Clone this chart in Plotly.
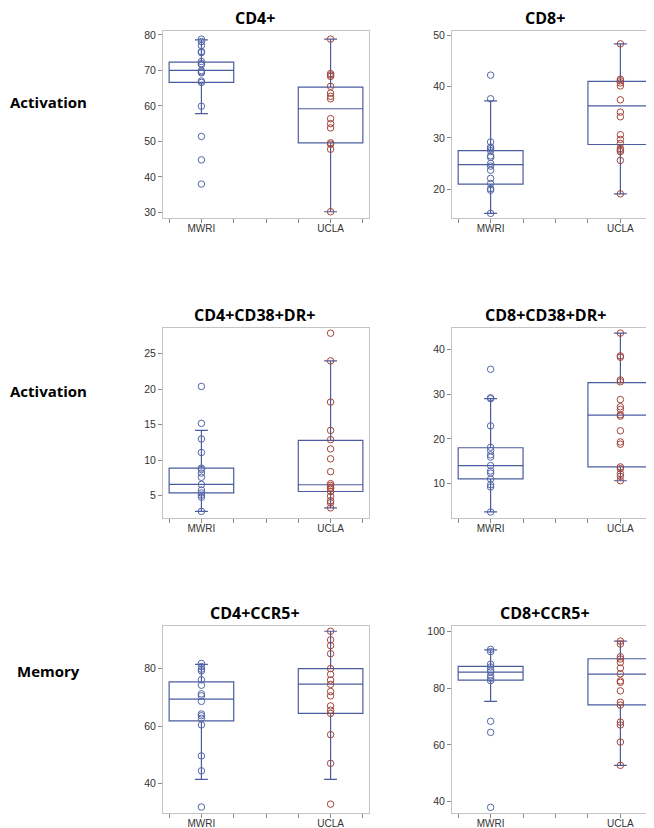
import plotly.graph_objects as go

W, H = 654, 828

# ---------------- data ----------------
groups = ["MWRI", "UCLA"]
group_pos = [1, 5]
x_tickvals = [0, 1, 2, 3, 4, 5, 6]
x_ticktext = ["", "MWRI", "", "", "", "UCLA", ""]

panel_titles = ["CD4+", "CD8+", "CD4+CD38+DR+", "CD8+CD38+DR+", "CD4+CCR5+", "CD8+CCR5+"]
row_labels = ["Activation", "Activation", "Memory"]

# raw observations
cd4_mwri = [78.8, 78.1, 77.0, 75.3, 75.0, 72.5, 71.9, 71.6, 69.9, 69.6, 69.3, 67.0, 66.6, 59.9, 51.4, 44.8, 38.0]
cd4_ucla = [78.8, 69.1, 68.7, 68.3, 65.5, 63.6, 62.7, 62.0, 56.4, 55.0, 53.8, 49.6, 49.2, 47.8, 30.2]
cd8_mwri = [42.2, 37.6, 29.2, 28.2, 27.9, 27.5, 26.5, 26.2, 25.0, 24.5, 23.7, 22.1, 21.1, 20.1, 19.8, 15.3]
cd8_ucla = [48.3, 41.4, 41.1, 40.7, 40.1, 37.4, 35.0, 34.1, 30.6, 29.7, 28.9, 27.9, 27.6, 27.3, 25.6, 19.1]
cd4dr_mwri = [20.4, 15.2, 13.0, 11.1, 8.9, 8.7, 8.2, 7.6, 6.6, 5.8, 5.4, 5.1, 4.8, 2.8]
cd4dr_ucla = [27.9, 24.0, 18.2, 14.2, 12.9, 11.6, 10.2, 8.4, 6.7, 6.45, 6.2, 6.0, 5.6, 4.95, 4.3, 4.0, 3.3]
cd8dr_mwri = [35.6, 29.2, 29.0, 22.9, 18.1, 17.4, 16.4, 15.9, 14.0, 12.8, 12.3, 11.0, 9.7, 9.2, 3.6]
cd8dr_ucla = [43.7, 38.6, 38.3, 33.2, 32.8, 28.8, 27.2, 26.6, 25.4, 25.1, 21.8, 19.3, 18.8, 13.7, 13.3, 12.2, 11.6, 10.6]
cd4ccr5_mwri = [81.8, 80.7, 79.8, 79.2, 76.1, 74.2, 71.2, 70.5, 68.6, 64.2, 63.6, 62.7, 60.4, 49.6, 44.4, 31.8]
cd4ccr5_ucla = [93.0, 90.0, 88.0, 85.2, 80.0, 78.0, 76.0, 74.5, 72.0, 70.5, 67.0, 65.5, 64.4, 57.0, 47.0, 32.8]
cd8ccr5_mwri = [93.6, 92.8, 88.4, 87.4, 86.4, 85.7, 84.3, 83.4, 82.6, 68.3, 64.4, 38.0]
cd8ccr5_ucla = [96.5, 95.5, 91.0, 90.2, 89.0, 87.0, 85.0, 82.5, 82.0, 79.0, 75.0, 74.0, 68.0, 67.0, 61.0, 52.8]

# box statistics as drawn: [lower whisker, Q1, median, Q3, upper whisker]
cd4_mwri_box = [57.8, 66.6, 70.0, 72.3, 78.6]
cd4_ucla_box = [30.2, 49.6, 59.2, 65.3, 78.8]
cd8_mwri_box = [15.3, 21.0, 24.8, 27.5, 37.2]
cd8_ucla_box = [19.1, 28.7, 36.2, 41.0, 48.3]
cd4dr_mwri_box = [2.8, 5.4, 6.6, 8.9, 14.2]
cd4dr_ucla_box = [3.3, 5.6, 6.55, 12.8, 24.0]
cd8dr_mwri_box = [3.6, 11.0, 14.0, 18.0, 29.0]
cd8dr_ucla_box = [10.6, 13.7, 25.3, 32.6, 43.7]
cd4ccr5_mwri_box = [41.4, 61.8, 69.4, 75.4, 81.5]
cd4ccr5_ucla_box = [41.4, 64.4, 74.6, 80.0, 93.0]
cd8ccr5_mwri_box = [75.3, 82.8, 85.6, 87.6, 93.4]
cd8ccr5_ucla_box = [52.8, 74.1, 84.9, 90.3, 96.5]

# y axis ranges and ticks
y_ranges = [[28.3, 81.1], [14.3, 50.8], [1.9, 28.6], [2.3, 44.8], [29.7, 95.0], [36.0, 102.0]]
y_ticks = [[30, 40, 50, 60, 70, 80], [20, 30, 40, 50], [5, 10, 15, 20, 25],
           [10, 20, 30, 40], [40, 60, 80], [40, 60, 80, 100]]

panels = [
    (cd4_mwri, cd4_ucla, cd4_mwri_box, cd4_ucla_box),
    (cd8_mwri, cd8_ucla, cd8_mwri_box, cd8_ucla_box),
    (cd4dr_mwri, cd4dr_ucla, cd4dr_mwri_box, cd4dr_ucla_box),
    (cd8dr_mwri, cd8dr_ucla, cd8dr_mwri_box, cd8dr_ucla_box),
    (cd4ccr5_mwri, cd4ccr5_ucla, cd4ccr5_mwri_box, cd4ccr5_ucla_box),
    (cd8ccr5_mwri, cd8ccr5_ucla, cd8ccr5_mwri_box, cd8ccr5_ucla_box),
]

# ---------------- layout (pixels) ----------------
col_px = [(155, 361), (444, 651)]
row_px = [(21, 209), (319, 509), (617, 805)]
title_cx = [247, 537]
row_label_y = [92, 382, 663]
row_label_x = 40

BOX_COLOR = "#4a5c9e"
MWRI_COLOR = "#5467a8"
UCLA_COLOR = "#a3453a"
FRAME_COLOR = "#c4c4c4"
TICK_COLOR = "#8a8a8a"
TEXT_FONT = "Liberation Sans, Arial, sans-serif"
BOLD_FONT = "Open Sans, Liberation Sans, sans-serif"

fig = go.Figure()
layout = dict(width=W, height=H, margin=dict(l=0, r=0, t=0, b=0),
              paper_bgcolor="white", plot_bgcolor="white", showlegend=False)
annotations = []

for i, (mw, uc, mwb, ucb) in enumerate(panels):
    r, c = divmod(i, 2)
    n = i + 1
    xa = "x" if n == 1 else f"x{n}"
    ya = "y" if n == 1 else f"y{n}"
    x0, x1 = col_px[c]
    yt, yb = row_px[r]

    for vals, stats, pos, mcol in ((mw, mwb, group_pos[0], MWRI_COLOR), (uc, ucb, group_pos[1], UCLA_COLOR)):
        fig.add_trace(go.Box(
            x=[pos], lowerfence=[stats[0]], q1=[stats[1]], median=[stats[2]],
            q3=[stats[3]], upperfence=[stats[4]], width=2, whiskerwidth=0.2,
            line=dict(color=BOX_COLOR, width=1.2), fillcolor="rgba(0,0,0,0)",
            boxpoints=False, hoverinfo="skip", xaxis=xa, yaxis=ya))
        fig.add_trace(go.Scatter(
            x=[pos] * len(vals), y=vals, mode="markers",
            marker=dict(symbol="circle-open", size=6.5, color=mcol, line=dict(width=1, color=mcol)),
            hoverinfo="skip", xaxis=xa, yaxis=ya))

    layout["xaxis" if n == 1 else f"xaxis{n}"] = dict(
        domain=[x0 / W, x1 / W], anchor=ya, range=[-0.19, 6.19],
        tickmode="array", tickvals=x_tickvals, ticktext=x_ticktext,
        ticks="outside", ticklen=4, tickcolor=TICK_COLOR, tickwidth=1,
        ticklabelstandoff=-3,
        showline=True, mirror=True, linecolor=FRAME_COLOR, linewidth=1,
        showgrid=False, zeroline=False,
        tickfont=dict(family=TEXT_FONT, size=10, color="#333333"))
    layout["yaxis" if n == 1 else f"yaxis{n}"] = dict(
        domain=[1 - yb / H, 1 - yt / H], anchor=xa, range=y_ranges[i],
        tickmode="array", tickvals=y_ticks[i],
        ticks="outside", ticklen=4, tickcolor=TICK_COLOR, tickwidth=1,
        showline=True, mirror=True, linecolor=FRAME_COLOR, linewidth=1,
        showgrid=False, zeroline=False,
        tickfont=dict(family=TEXT_FONT, size=10.5, color="#333333"))

    annotations.append(dict(text=f"<b>{panel_titles[i]}</b>", xref="paper", yref="paper",
                            x=title_cx[c] / W, y=1 - (yt - 13) / H, xanchor="center", yanchor="middle",
                            showarrow=False, font=dict(family=BOLD_FONT, size=16, color="#000000")))

for r, lab in enumerate(row_labels):
    annotations.append(dict(text=f"<b>{lab}</b>", xref="paper", yref="paper",
                            x=row_label_x / W, y=1 - row_label_y[r] / H, xanchor="center", yanchor="middle",
                            showarrow=False, font=dict(family=BOLD_FONT, size=15, color="#000000")))

layout["annotations"] = annotations
fig.update_layout(**layout)
fig.write_html("out.html")
